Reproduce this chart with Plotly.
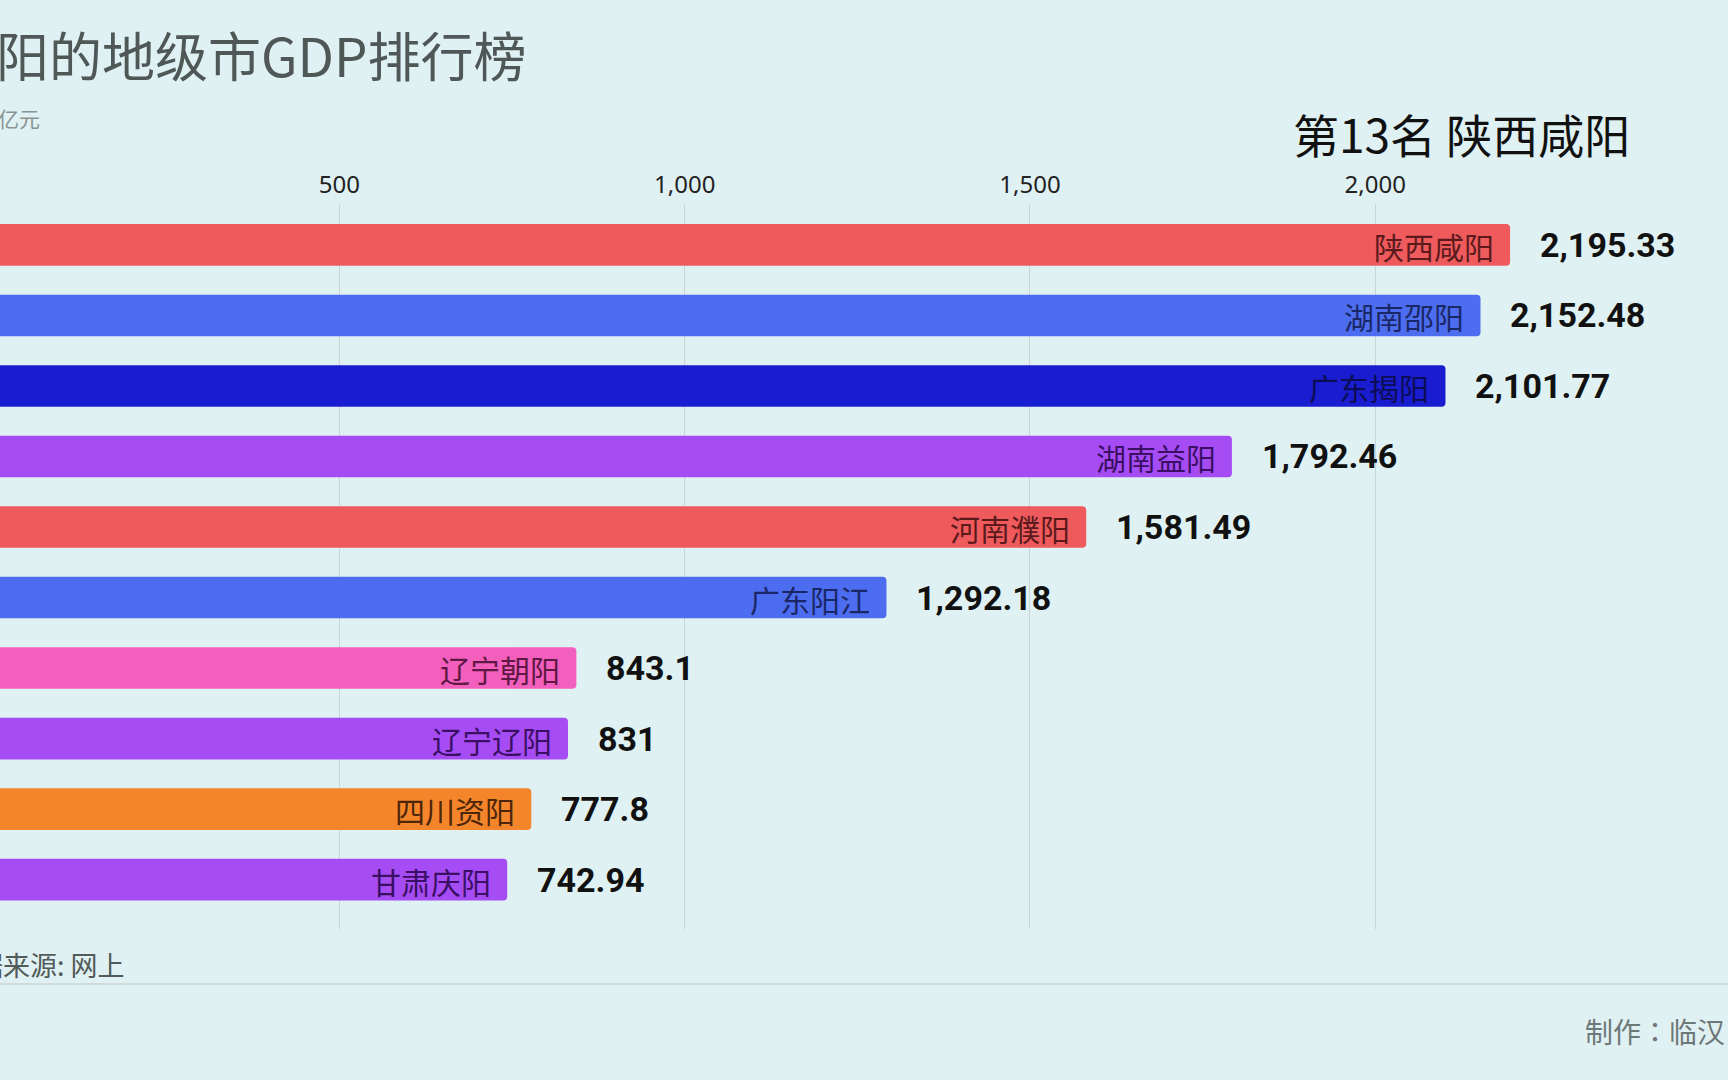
import plotly.graph_objects as go

# ---- data ----
cities = ["陕西咸阳", "湖南邵阳", "广东揭阳", "湖南益阳", "河南濮阳",
          "广东阳江", "辽宁朝阳", "辽宁辽阳", "四川资阳", "甘肃庆阳"]
gdp = [2195.33, 2152.48, 2101.77, 1792.46, 1581.49,
       1292.18, 843.1, 831, 777.8, 742.94]
value_text = ["2,195.33", "2,152.48", "2,101.77", "1,792.46", "1,581.49",
              "1,292.18", "843.1", "831", "777.8", "742.94"]
bar_colors = ["#ef5b5c", "#4d6df0", "#1a1ccf", "#a64cf5", "#ef5b5c",
              "#4d6df0", "#f35fbd", "#a64cf5", "#f5852a", "#a64cf5"]
label_colors = ["#5c1a1c", "#1a2766", "#0b0d55", "#3b0f63", "#5c1a1c",
                "#1a2766", "#5e1843", "#3b0f63", "#4d260a", "#3b0f63"]
tick_vals = [0, 500, 1000, 1500, 2000]
tick_text = ["0", "500", "1,000", "1,500", "2,000"]

title_text = "带阳的地级市GDP排行榜"
unit_text = "单位：亿元"
rank_text = "第13名 陕西咸阳"
source_text = "数据来源: 网上"
credit_text = "制作：临汉"

BG = "#dff1f2"
CJK = "Noto Sans CJK SC"

rows = list(range(len(cities)))

W, H = 1728, 1080
TOP, BOTTOM = 204, 929          # plot area in pixels

fig = go.Figure()
fig.add_trace(go.Bar(
    x=gdp, y=rows, orientation="h",
    marker=dict(color=bar_colors, line=dict(width=0)),
    width=0.59, hoverinfo="skip", showlegend=False,
))

annotations = []
for r, v, name, lc, vt in zip(rows, gdp, cities, label_colors, value_text):
    annotations.append(dict(
        x=v, y=r, xref="x", yref="y", text=name, showarrow=False,
        xanchor="right", yanchor="middle", xshift=-14, yshift=-1,
        font=dict(family=CJK, size=30, color=lc),
    ))
    annotations.append(dict(
        x=v, y=r, xref="x", yref="y", text=vt, showarrow=False,
        xanchor="left", yanchor="middle", xshift=28, yshift=0,
        font=dict(family="Roboto", size=34, color="#111111", weight="bold"),
    ))

def px(xp):
    return xp / W
def py(yp):
    return (BOTTOM - yp) / (BOTTOM - TOP)

# x axis mapping: 0 sits just left of the page edge
slope = 0.6905
x_left = 5.8 / slope
x_right = x_left + W / slope

# the "0" tick label falls outside the visible range, draw it half cut at the edge
annotations.append(dict(
    x=(tick_vals[0] - x_left) / (x_right - x_left), y=1, xref="paper", yref="paper",
    text=tick_text[0], showarrow=False, xanchor="center", yanchor="bottom", yshift=3,
    font=dict(family="Noto Sans", size=24, color="#222222"),
))

annotations += [
    dict(x=px(529), y=py(54), xref="paper", yref="paper", text=title_text,
         showarrow=False, xanchor="right", yanchor="middle",
         font=dict(family=CJK, size=53, color="#4f5757")),
    dict(x=px(42), y=py(118), xref="paper", yref="paper", text=unit_text,
         showarrow=False, xanchor="right", yanchor="middle",
         font=dict(family=CJK, size=21, color="#8a9292")),
    dict(x=px(1632), y=py(133), xref="paper", yref="paper", text=rank_text,
         showarrow=False, xanchor="right", yanchor="middle",
         font=dict(family=CJK, size=46, color="#111111")),
    dict(x=px(127), y=py(964), xref="paper", yref="paper", text=source_text,
         showarrow=False, xanchor="right", yanchor="middle",
         font=dict(family=CJK, size=27, color="#525a5a")),
    dict(x=px(1583), y=py(1031), xref="paper", yref="paper", text=credit_text,
         showarrow=False, xanchor="left", yanchor="middle",
         font=dict(family="Noto Sans CJK JP", size=28, color="#6f7878")),
]

fig.update_layout(
    width=W, height=H,
    paper_bgcolor=BG, plot_bgcolor=BG,
    margin=dict(l=0, r=0, t=TOP, b=H - BOTTOM, pad=0),
    barcornerradius=4,
    annotations=annotations,
    shapes=[dict(type="line", xref="paper", yref="paper",
                 x0=0, x1=1, y0=py(984), y1=py(984),
                 line=dict(color="#d2dada", width=2))],
    xaxis=dict(
        range=[x_left, x_right], side="top",
        tickvals=tick_vals, ticktext=tick_text,
        showgrid=True, gridcolor="#cad4d5", gridwidth=1,
        zeroline=False, showline=False, ticks="",
        ticklabelstandoff=5,
        tickfont=dict(family="Noto Sans", size=24, color="#222222"),
        fixedrange=True,
    ),
    yaxis=dict(
        range=[9.70, -0.58], showticklabels=False, showgrid=False,
        zeroline=False, showline=False, ticks="", fixedrange=True,
    ),
)

fig.write_html(
    "out.html",
    config={"displayModeBar": False},
    post_script="document.body.style.margin='0';document.body.style.background='#dff1f2';",
)
